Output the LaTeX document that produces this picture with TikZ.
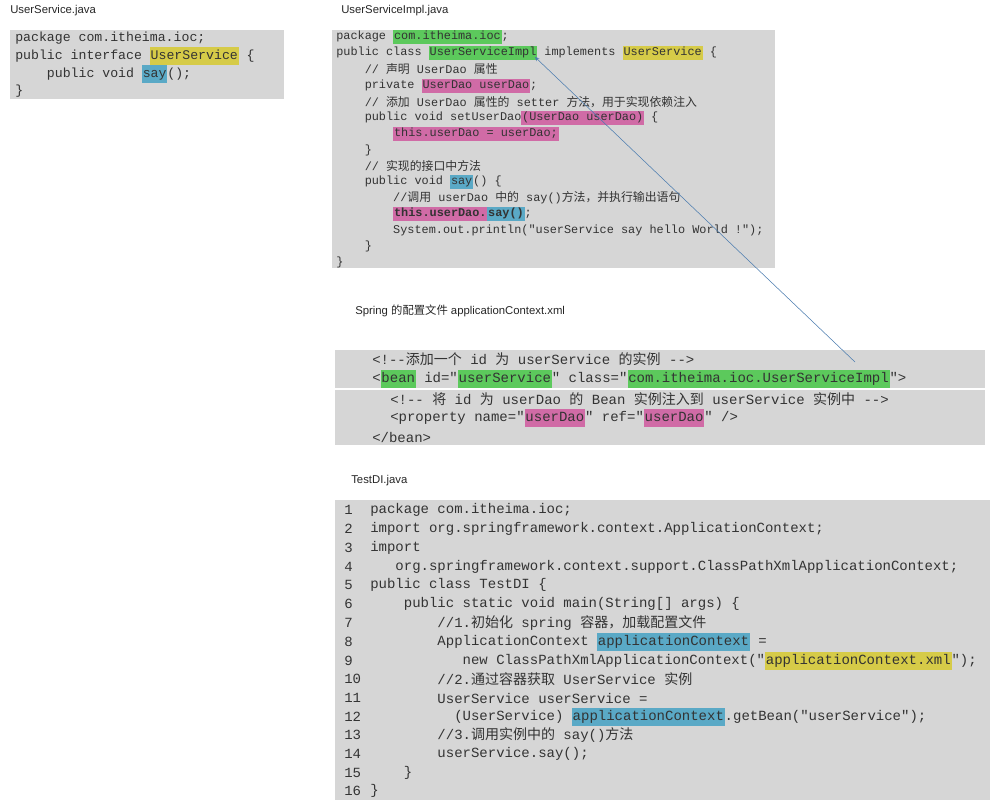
\documentclass[tikz,border=0pt]{standalone}
\usepackage{fontspec}
\setmainfont{Liberation Sans}
\setmonofont{Liberation Mono}
\newfontfamily\cjk{Noto Sans CJK SC}
\usetikzlibrary{positioning}
\definecolor{codebg}{HTML}{D6D6D6}
\definecolor{codefg}{HTML}{333333}
\definecolor{hlyel}{HTML}{D6CB48}
\definecolor{hlgrn}{HTML}{5CC95C}
\definecolor{hlblu}{HTML}{5AA9C6}
\definecolor{hlmag}{HTML}{D06BA6}
\definecolor{arrowblue}{HTML}{4A7BAF}
\newcommand{\zh}[1]{{\cjk #1}}
\newcommand{\hl}[2]{{\setlength{\fboxsep}{0.6pt}\colorbox{#1}{\strut #2}}}
\tikzset{
  title/.style={anchor=west, font=\fontsize{8.5}{10}\selectfont, text=black!85, inner sep=0pt},
  codebox/.style={fill=codebg, draw=none},
  code/.style={anchor=west, inner sep=0pt, text=codefg, font=\ttfamily\fontsize{8.9}{10}\selectfont},
  bigcode/.style={code, font=\ttfamily\fontsize{10.5}{12}\selectfont},
  midcode/.style={code, font=\ttfamily\fontsize{9.9}{12}\selectfont},
}
\begin{document}
\begin{tikzpicture}[x=0.75pt, y=-0.75pt]
\useasboundingbox (0,0) rectangle (992,801);

% titles
\node[title] (t1) at (10,11) {UserService.java};
\node[title] (t2) at (341,11) {UserServiceImpl.java};
\node[title] (t3) at (355,311) {Spring \zh{的配置文件} applicationContext.xml};
\node[title] (t4) at (351,481) {TestDI.java};

% UserService.java
\fill[codebox] (10,30) rectangle (284,99);
\node[midcode] (a1) at (15,38) {package com.itheima.ioc;};
\node[midcode] (a2) at (15,56) {public interface \hl{hlyel}{UserService} \{};
\node[midcode] (a3) at (15,74) {\ \ \ \ public void \hl{hlblu}{say}();};
\node[midcode] (a4) at (15,91) {\}};

% UserServiceImpl.java
\fill[codebox] (332,30) rectangle (775,268);
\node[code] (b1) at (336,37) {package \hl{hlgrn}{com.itheima.ioc};};
\node[code] (b2) at (336,53) {public class \hl{hlgrn}{UserServiceImpl} implements \hl{hlyel}{UserService} \{};
\node[code] (b3) at (336,69) {\ \ \ \ // \zh{声明} UserDao \zh{属性}};
\node[code] (b4) at (336,86) {\ \ \ \ private \hl{hlmag}{UserDao userDao};};
\node[code] (b5) at (336,102) {\ \ \ \ // \zh{添加} UserDao \zh{属性的} setter \zh{方法，用于实现依赖注入}};
\node[code] (b6) at (336,118) {\ \ \ \ public void setUserDao\hl{hlmag}{(UserDao userDao)} \{};
\node[code] (b7) at (336,134) {\ \ \ \ \ \ \ \ \hl{hlmag}{this.userDao = userDao;}};
\node[code] (b8) at (336,150) {\ \ \ \ \}};
\node[code] (b9) at (336,166) {\ \ \ \ // \zh{实现的接口中方法}};
\node[code] (b10) at (336,182) {\ \ \ \ public void \hl{hlblu}{say}() \{};
\node[code] (b11) at (336,198) {\ \ \ \ \ \ \ \ //\zh{调用} userDao \zh{中的} say()\zh{方法，并执行输出语句}};
\node[code] (b12) at (336,214) {\ \ \ \ \ \ \ \ \hl{hlmag}{\bfseries this.userDao.}\hl{hlblu}{\bfseries say()};};
\node[code] (b13) at (336,230) {\ \ \ \ \ \ \ \ System.out.println("userService say hello World !");};
\node[code] (b14) at (336,246) {\ \ \ \ \}};
\node[code] (b15) at (336,262) {\}};

% applicationContext.xml
\fill[codebox] (335,350) rectangle (985,445);
\draw[white, line width=1.5pt] (335,389) -- (985,389);
\node[bigcode] (c1) at (372,359) {<!--\zh{添加一个} id \zh{为} userService \zh{的实例} -->};
\node[bigcode] (c2) at (372,379) {<\hl{hlgrn}{bean} id="\hl{hlgrn}{userService}" class="\hl{hlgrn}{com.itheima.ioc.UserServiceImpl}">};
\node[bigcode] (c3) at (390,399) {<!-- \zh{将} id \zh{为} userDao \zh{的} Bean \zh{实例注入到} userService \zh{实例中} -->};
\node[bigcode] (c4) at (390,418) {<property name="\hl{hlmag}{userDao}" ref="\hl{hlmag}{userDao}" />};
\node[bigcode] (c5) at (372,437) {</bean>};

% TestDI.java
\fill[codebox] (335,500) rectangle (990,800);
\foreach \n/\y in {1/510,2/529,3/548,4/567,5/585,6/604,7/623,8/642,9/661,10/679,11/698,12/717,13/735,14/754,15/773,16/791}
  \node[bigcode] (n\n) at (344,\y) {\n};
\node[bigcode] (d1) at (370,510) {package com.itheima.ioc;};
\node[bigcode] (d2) at (370,529) {import org.springframework.context.ApplicationContext;};
\node[bigcode] (d3) at (370,548) {import};
\node[bigcode] (d4) at (370,567) {\ \ \ org.springframework.context.support.ClassPathXmlApplicationContext;};
\node[bigcode] (d5) at (370,585) {public class TestDI \{};
\node[bigcode] (d6) at (370,604) {\ \ \ \ public static void main(String[] args) \{};
\node[bigcode] (d7) at (370,623) {\ \ \ \ \ \ \ \ //1.\zh{初始化} spring \zh{容器，加载配置文件}};
\node[bigcode] (d8) at (370,642) {\ \ \ \ \ \ \ \ ApplicationContext \hl{hlblu}{applicationContext} =};
\node[bigcode] (d9) at (370,661) {\ \ \ \ \ \ \ \ \ \ \ new ClassPathXmlApplicationContext("\hl{hlyel}{applicationContext.xml}");};
\node[bigcode] (d10) at (370,679) {\ \ \ \ \ \ \ \ //2.\zh{通过容器获取} UserService \zh{实例}};
\node[bigcode] (d11) at (370,698) {\ \ \ \ \ \ \ \ UserService userService =};
\node[bigcode] (d12) at (370,717) {\ \ \ \ \ \ \ \ \ \ (UserService) \hl{hlblu}{applicationContext}.getBean("userService");};
\node[bigcode] (d13) at (370,735) {\ \ \ \ \ \ \ \ //3.\zh{调用实例中的} say()\zh{方法}};
\node[bigcode] (d14) at (370,754) {\ \ \ \ \ \ \ \ userService.say();};
\node[bigcode] (d15) at (370,773) {\ \ \ \ \}};
\node[bigcode] (d16) at (370,791) {\}};

% link from bean to class
\coordinate (beanref) at (855,362);
\coordinate (implref) at (535,57);
\draw[-stealth, arrowblue, thin] (beanref) -- (implref);
\end{tikzpicture}
\end{document}
